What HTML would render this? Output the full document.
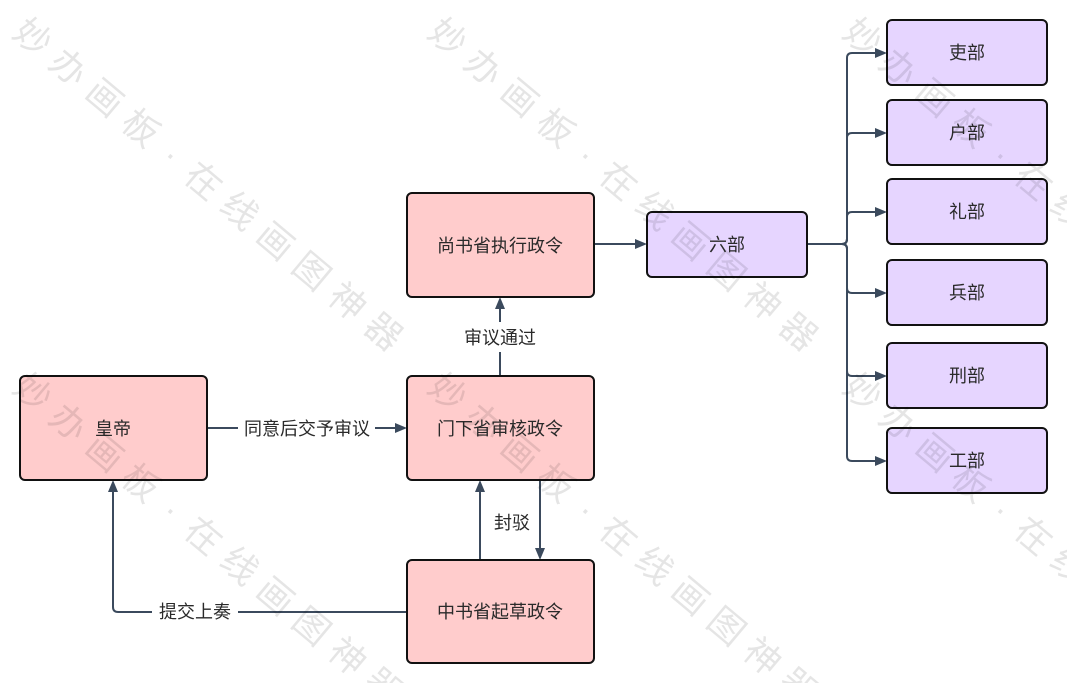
<!DOCTYPE html>
<html>
<head>
<meta charset="utf-8">
<style>
  html,body{margin:0;padding:0;background:#fff;}
  body{width:1067px;height:683px;overflow:hidden;}
  svg{display:block;}
  .t{font-family:"Liberation Sans","Noto Sans CJK SC",sans-serif;font-size:18px;fill:#2a2a2a;}
  .wm{font-family:"Liberation Sans","Noto Sans CJK SC",sans-serif;font-size:36px;fill:#000;fill-opacity:0.1;}
</style>
</head>
<body>
<svg width="1067" height="683" viewBox="0 0 1067 683" xmlns="http://www.w3.org/2000/svg">
  <rect x="0" y="0" width="1067" height="683" fill="#fff"/>

  <!-- connectors -->
  <g fill="none" stroke="#3b4a5d" stroke-width="2">
    <path d="M207,428 H396"/>
    <path d="M500,376 V308"/>
    <path d="M594,244 H636"/>
    <path d="M480,560 V491"/>
    <path d="M540,480 V549"/>
    <path d="M407,612 H118 Q113,612 113,607 V491"/>
    <path d="M807,244 H842 Q847,244 847,239 V58 Q847,53 852,53 H876"/>
    <path d="M807,244 H842 Q847,244 847,239 V138 Q847,133 852,133 H876"/>
    <path d="M807,244 H842 Q847,244 847,239 V217 Q847,212 852,212 H876"/>
    <path d="M807,244 H842 Q847,244 847,249 V288 Q847,293 852,293 H876"/>
    <path d="M807,244 H842 Q847,244 847,249 V371 Q847,376 852,376 H876"/>
    <path d="M807,244 H842 Q847,244 847,249 V456 Q847,461 852,461 H876"/>
  </g>

  <!-- arrowheads -->
  <g fill="#3b4a5d">
    <polygon points="407,428 395,423 395,433"/>
    <polygon points="500,297 495,309 505,309"/>
    <polygon points="647,244 635,239 635,249"/>
    <polygon points="480,480 475,492 485,492"/>
    <polygon points="540,560 535,548 545,548"/>
    <polygon points="113,480 108,492 118,492"/>
    <polygon points="887,53 875,48 875,58"/>
    <polygon points="887,133 875,128 875,138"/>
    <polygon points="887,212 875,207 875,217"/>
    <polygon points="887,293 875,288 875,298"/>
    <polygon points="887,376 875,371 875,381"/>
    <polygon points="887,461 875,456 875,466"/>
  </g>

  <!-- edge labels -->
  <rect x="238" y="415" width="137" height="26" fill="#fff"/>
  <text class="t" x="307" y="435" text-anchor="middle">同意后交予审议</text>
  <rect x="460" y="322" width="80" height="30" fill="#fff"/>
  <text class="t" x="500" y="344" text-anchor="middle">审议通过</text>
  <text class="t" x="512" y="529" text-anchor="middle">封驳</text>
  <rect x="152" y="599" width="86" height="26" fill="#fff"/>
  <text class="t" x="195" y="618" text-anchor="middle">提交上奏</text>

  <!-- nodes -->
  <g stroke="#111" stroke-width="2">
    <rect x="20" y="376" width="187" height="104" rx="5" fill="#ffcccc"/>
    <rect x="407" y="376" width="187" height="104" rx="5" fill="#ffcccc"/>
    <rect x="407" y="193" width="187" height="104" rx="5" fill="#ffcccc"/>
    <rect x="407" y="560" width="187" height="103" rx="5" fill="#ffcccc"/>
    <rect x="647" y="212" width="160" height="65" rx="5" fill="#e6d5ff"/>
    <rect x="887" y="20" width="160" height="65" rx="5" fill="#e6d5ff"/>
    <rect x="887" y="100" width="160" height="65" rx="5" fill="#e6d5ff"/>
    <rect x="887" y="179" width="160" height="65" rx="5" fill="#e6d5ff"/>
    <rect x="887" y="260" width="160" height="65" rx="5" fill="#e6d5ff"/>
    <rect x="887" y="343" width="160" height="65" rx="5" fill="#e6d5ff"/>
    <rect x="887" y="428" width="160" height="65" rx="5" fill="#e6d5ff"/>
  </g>

  <g class="t" text-anchor="middle">
    <text x="113" y="435">皇帝</text>
    <text x="500" y="435">门下省审核政令</text>
    <text x="500" y="252">尚书省执行政令</text>
    <text x="500" y="618">中书省起草政令</text>
    <text x="727" y="251">六部</text>
    <text x="967" y="59">吏部</text>
    <text x="967" y="139">户部</text>
    <text x="967" y="218">礼部</text>
    <text x="967" y="299">兵部</text>
    <text x="967" y="382">刑部</text>
    <text x="967" y="467">工部</text>
  </g>

  <!-- watermark -->
  <g class="wm">
    <text transform="translate(33,37) rotate(40)" x="0 47 94 141 182 223 270 317 364 411 458" y="13" text-anchor="middle">妙办画板·在线画图神器</text>
    <text transform="translate(448,37) rotate(40)" x="0 47 94 141 182 223 270 317 364 411 458" y="13" text-anchor="middle">妙办画板·在线画图神器</text>
    <text transform="translate(863,37) rotate(40)" x="0 47 94 141 182 223 270 317 364 411 458" y="13" text-anchor="middle">妙办画板·在线画图神器</text>
    <text transform="translate(33,392) rotate(40)" x="0 47 94 141 182 223 270 317 364 411 458" y="13" text-anchor="middle">妙办画板·在线画图神器</text>
    <text transform="translate(448,392) rotate(40)" x="0 47 94 141 182 223 270 317 364 411 458" y="13" text-anchor="middle">妙办画板·在线画图神器</text>
    <text transform="translate(863,392) rotate(40)" x="0 47 94 141 182 223 270 317 364 411 458" y="13" text-anchor="middle">妙办画板·在线画图神器</text>
  </g>
</svg>
</body>
</html>
